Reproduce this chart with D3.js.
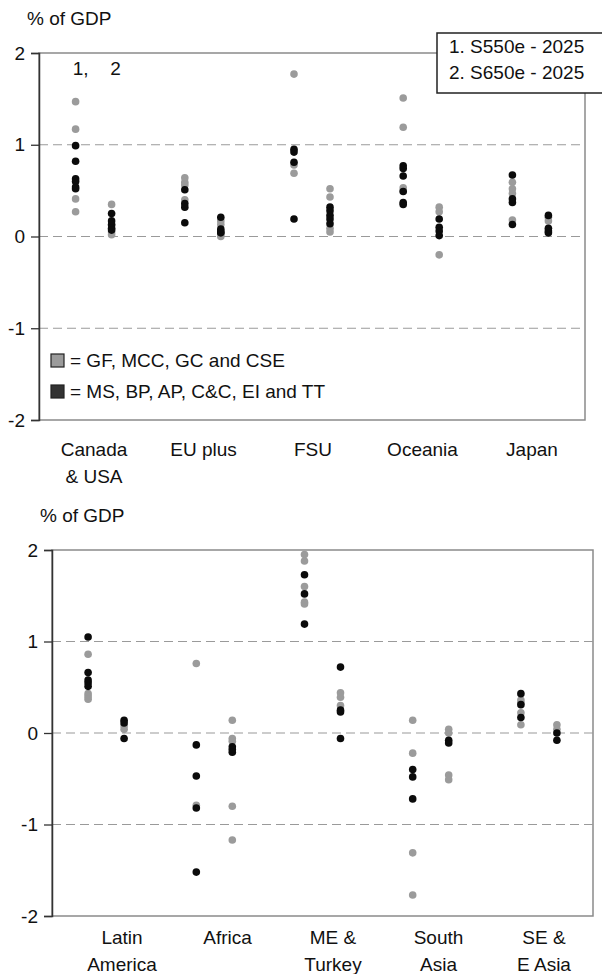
<!DOCTYPE html>
<html>
<head>
<meta charset="utf-8">
<script src="https://cdn.jsdelivr.net/npm/d3@7/dist/d3.min.js"></script>
<style>
  html, body { margin: 0; padding: 0; background: #fff; }
  svg { display: block; font-family: "Liberation Sans", Arial, sans-serif; }
</style>
</head>
<body>
<svg id="chart" width="602" height="974"></svg>
<script>
// ---------------- DATA ----------------
const yTicks = [-2, -1, 0, 1, 2];
const yTickLabels = ["-2", "-1", "0", "1", "2"];
const yLabel = "% of GDP";
const seriesLabels = ["1,", "2"];
const boxLegend = ["1. S550e - 2025", "2. S650e - 2025"];
const colorLegend = ["= GF, MCC, GC and CSE", "= MS, BP, AP, C&C, EI and TT"];

// Top panel
const topCategories = [["Canada", "& USA"], ["EU plus"], ["FSU"], ["Oceania"], ["Japan"]];
const topS1Gray  = [[1.47, 1.17, 0.41, 0.27], [0.64, 0.59, 0.56, 0.40], [1.77, 0.78, 0.69], [1.51, 1.19, 0.53, 0.50], [0.59, 0.52, 0.47, 0.18]];
const topS1Black = [[0.99, 0.82, 0.63, 0.60, 0.54, 0.52], [0.51, 0.36, 0.32, 0.15], [0.95, 0.92, 0.81, 0.19], [0.77, 0.74, 0.66, 0.49, 0.37, 0.35], [0.67, 0.41, 0.37, 0.13]];
const topS2Gray  = [[0.35, 0.12, 0.05, 0.02], [0.17, 0.13, 0.02, 0.0], [0.52, 0.43, 0.09, 0.05], [0.32, 0.27, -0.20], [0.21, 0.17]];
const topS2Black = [[0.25, 0.17, 0.13, 0.09, 0.07], [0.21, 0.08, 0.05, 0.04], [0.32, 0.28, 0.23, 0.19, 0.14], [0.19, 0.10, 0.06, 0.01], [0.23, 0.09, 0.06, 0.04]];

// Bottom panel
const botCategories = [["Latin", "America"], ["Africa"], ["ME &", "Turkey"], ["South", "Asia"], ["SE &", "E Asia"]];
const botS1Gray  = [[0.86, 0.43, 0.40, 0.37], [0.76, -0.79], [1.95, 1.88, 1.60, 1.43, 1.41], [0.14, -0.22, -1.31, -1.77], [0.36, 0.33, 0.22, 0.09]];
const botS1Black = [[1.05, 0.66, 0.58, 0.55, 0.51], [-0.13, -0.47, -0.82, -1.52], [1.73, 1.52, 1.19], [-0.40, -0.48, -0.72], [0.43, 0.31, 0.17]];
const botS2Gray  = [[0.08, 0.04], [0.14, -0.06, -0.09, -0.80, -1.17], [0.44, 0.39, 0.30], [0.04, 0.0, -0.46, -0.51], [0.09, 0.04]];
const botS2Black = [[0.14, 0.11, -0.06], [-0.15, -0.18, -0.21], [0.72, 0.25, 0.23, -0.06], [-0.08, -0.11], [0.0, -0.08]];

// ---------------- DRAW ----------------
const svg = d3.select("#chart");
const GRAY = "#9b9b9b", BLACK = "#0b0b0b";
const FONT = 19;

function panel(cfg) {
  const g = svg.append("g");
  const names = cfg.categories.map(c => c.join(" "));
  const x = d3.scaleBand().domain(names).range([cfg.x0, cfg.x1]).padding(0);
  const y = d3.scaleLinear().domain([-2, 2]).range([cfg.yb, cfg.yt]);
  const xl = d3.scalePoint().domain(names).range(cfg.labRange);
  const off = 18;

  g.append("rect").attr("x", cfg.x0).attr("y", cfg.yt)
    .attr("width", cfg.x1 - cfg.x0).attr("height", cfg.yb - cfg.yt)
    .attr("fill", "none").attr("stroke", "#8a8a8a").attr("stroke-width", 1.5);

  g.selectAll("line.grid").data(yTicks.filter(t => t > -2 && t < 2)).join("line")
    .attr("x1", cfg.x0).attr("x2", cfg.x1)
    .attr("y1", d => y(d)).attr("y2", d => y(d))
    .attr("stroke", "#9a9a9a").attr("stroke-width", 1.2).attr("stroke-dasharray", "9,5");

  const ax = g.append("g").attr("transform", `translate(${cfg.x0},0)`)
    .call(d3.axisLeft(y).tickValues(yTicks).tickSize(8).tickPadding(6)
      .tickFormat(d => yTickLabels[yTicks.indexOf(d)]));
  ax.select(".domain").attr("stroke", "#333").attr("stroke-width", 1.5);
  ax.selectAll(".tick line").attr("stroke", "#333").attr("stroke-width", 1.3);
  ax.selectAll(".tick text").attr("font-size", FONT).attr("fill", "#111")
    .attr("font-family", "Liberation Sans, Arial, sans-serif");

  g.append("text").attr("x", cfg.titleX).attr("y", cfg.titleY)
    .attr("font-size", FONT).attr("fill", "#111").text(yLabel);

  const lab = g.selectAll("text.cat").data(cfg.categories).join("text")
    .attr("text-anchor", "middle").attr("font-size", FONT).attr("fill", "#111")
    .attr("x", (d, i) => xl(names[i]))
    .attr("y", cfg.labY);
  lab.selectAll("tspan").data(d => d).join("tspan")
    .attr("x", function () { return d3.select(this.parentNode).attr("x"); })
    .attr("dy", (d, i) => i === 0 ? 0 : 27).text(d => d);

  const groups = [
    { data: cfg.s1Gray, dx: -off, color: GRAY },
    { data: cfg.s2Gray, dx: off, color: GRAY },
    { data: cfg.s1Black, dx: -off, color: BLACK },
    { data: cfg.s2Black, dx: off, color: BLACK }
  ];
  groups.forEach(grp => {
    const pts = [];
    grp.data.forEach((vals, i) => vals.forEach(v => pts.push({ c: names[i], v })));
    g.append("g").selectAll("circle").data(pts).join("circle")
      .attr("cx", d => x(d.c) + x.bandwidth() / 2 + grp.dx)
      .attr("cy", d => y(d.v))
      .attr("r", 3.8)
      .attr("fill", grp.color);
  });
  return { x, y, names, off };
}

const topPanel = panel({
  categories: topCategories, x0: 39, x1: 585, yt: 53, yb: 420,
  titleX: 27, titleY: 25, labY: 456, labRange: [94, 532],
  s1Gray: topS1Gray, s1Black: topS1Black, s2Gray: topS2Gray, s2Black: topS2Black
});
panel({
  categories: botCategories, x0: 52, x1: 593, yt: 550, yb: 916,
  titleX: 40, titleY: 522, labY: 944, labRange: [122, 544],
  s1Gray: botS1Gray, s1Black: botS1Black, s2Gray: botS2Gray, s2Black: botS2Black
});

const c0 = topPanel.x(topPanel.names[0]) + topPanel.x.bandwidth() / 2;
svg.append("text").attr("x", c0 - topPanel.off + 5).attr("y", 75).attr("text-anchor", "middle")
  .attr("font-size", FONT).attr("fill", "#111").text(seriesLabels[0]);
svg.append("text").attr("x", c0 + topPanel.off + 4).attr("y", 75).attr("text-anchor", "middle")
  .attr("font-size", FONT).attr("fill", "#111").text(seriesLabels[1]);

svg.append("rect").attr("x", 437).attr("y", 33).attr("width", 180).attr("height", 60)
  .attr("fill", "#fff").attr("stroke", "#222").attr("stroke-width", 1.5);
svg.selectAll("text.box").data(boxLegend).join("text")
  .attr("x", 449).attr("y", (d, i) => 53 + i * 26)
  .attr("font-size", FONT).attr("fill", "#111").text(d => d);

const lg = svg.append("g");
[GRAY, "#333"].forEach((c, i) => {
  lg.append("rect").attr("x", 51).attr("y", 354 + i * 31).attr("width", 13).attr("height", 13)
    .attr("fill", c).attr("stroke", "#222").attr("stroke-width", 1.2);
  lg.append("text").attr("x", 70).attr("y", 367 + i * 31)
    .attr("font-size", FONT).attr("fill", "#111").text(colorLegend[i]);
});
</script>
</body>
</html>
